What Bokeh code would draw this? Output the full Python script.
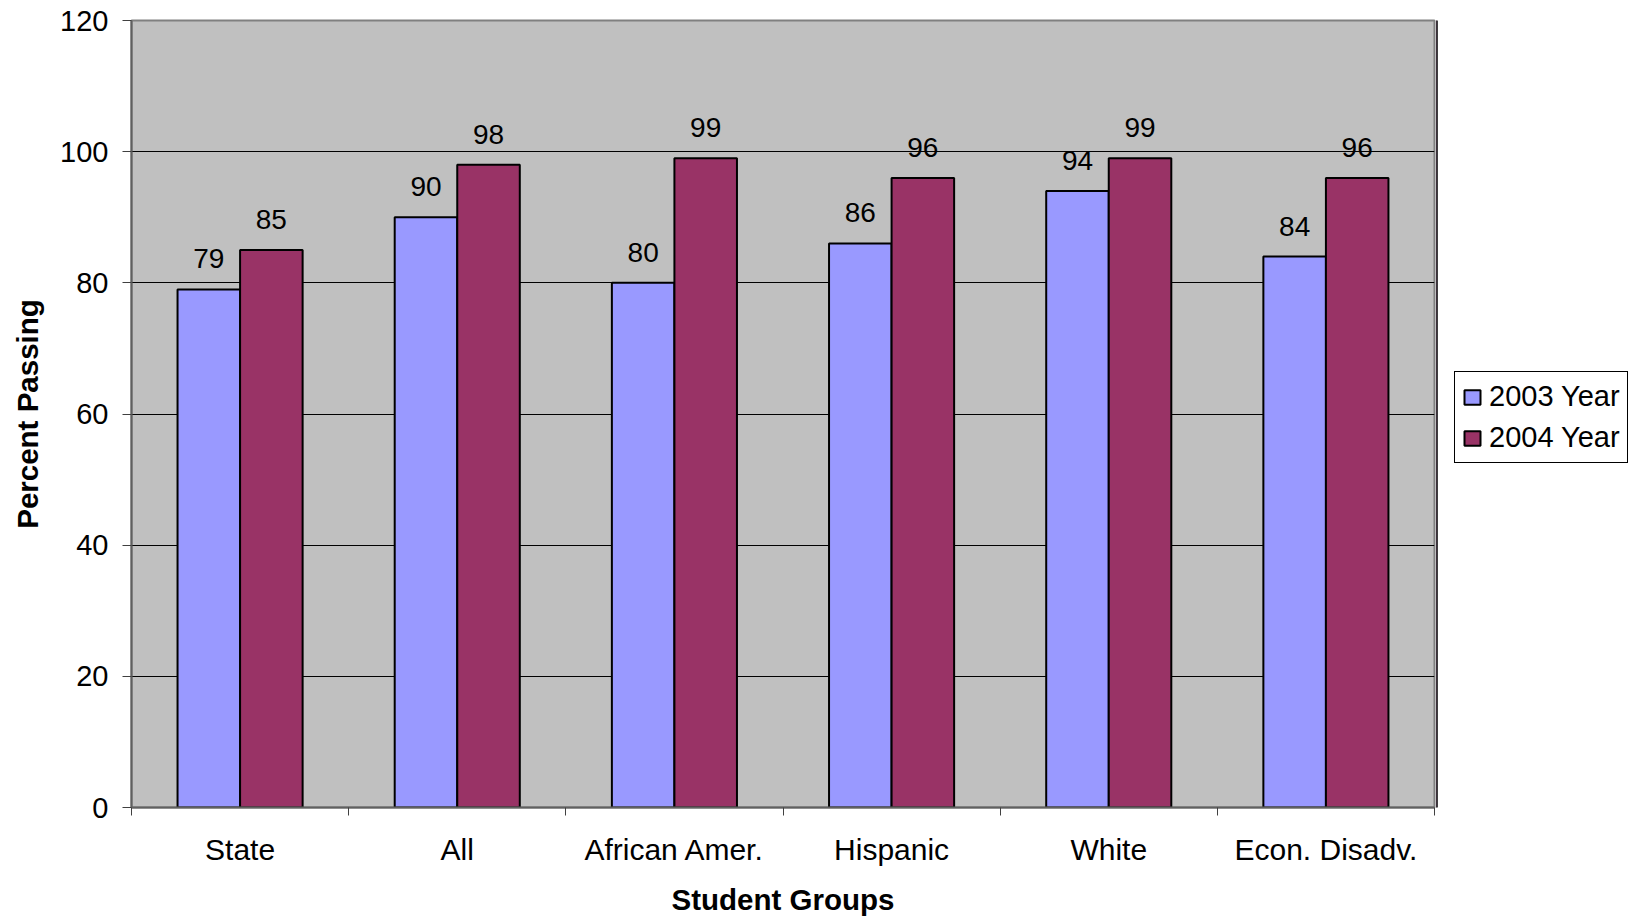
from bokeh.plotting import figure
from bokeh.models import (ColumnDataSource, Range1d, FixedTicker, LabelSet,
                          Legend, LegendItem)
from bokeh.layouts import row
from bokeh.transform import dodge
from bokeh.core.properties import value
from bokeh.embed import file_html
from bokeh.resources import INLINE

categories = ["State", "All", "African Amer.", "Hispanic", "White", "Econ. Disadv."]
series_names = ["2003 Year", "2004 Year"]
values_2003 = [79, 90, 80, 86, 94, 84]
values_2004 = [85, 98, 99, 96, 99, 96]
y_ticks = [0, 20, 40, 60, 80, 100, 120]

colors = ["#9999FF", "#993366"]
FONT = "Liberation Sans"

centers = [i + 0.5 for i in range(len(categories))]
src = ColumnDataSource(dict(x=centers, cat=categories,
                            v3=values_2003, v4=values_2004,
                            l3=[str(v) for v in values_2003],
                            l4=[str(v) for v in values_2004]))

H = 918
p = figure(width=1436, height=H, output_backend="svg", toolbar_location=None,
           x_range=Range1d(0, len(categories)), y_range=Range1d(0, 120),
           min_border_left=131, min_border_right=2,
           min_border_top=20, min_border_bottom=110)

p.background_fill_color = "#C0C0C0"
p.border_fill_color = "white"
p.outline_line_color = "#808080"
p.outline_line_width = 2

bw = 0.288
r3 = p.vbar(x=dodge("x", -bw / 2, range=p.x_range), top="v3", width=bw, source=src,
            fill_color=colors[0], line_color="black", line_width=2)
r4 = p.vbar(x=dodge("x", bw / 2, range=p.x_range), top="v4", width=bw, source=src,
            fill_color=colors[1], line_color="black", line_width=2)

for col, ycol, off in (("l3", "v3", -bw / 2), ("l4", "v4", bw / 2)):
    p.add_layout(LabelSet(x=dodge("x", off, range=p.x_range), y=ycol, text=col,
                          source=src, y_offset=21, text_align="center",
                          text_baseline="alphabetic", text_font=value(FONT),
                          text_font_size=value("28px"), text_color="black"))

# grid
p.xgrid.visible = False
p.ygrid.ticker = FixedTicker(ticks=y_ticks)
p.ygrid.grid_line_color = "black"
p.ygrid.grid_line_width = 1

# y axis
p.yaxis.ticker = FixedTicker(ticks=y_ticks)
p.yaxis.axis_label = "Percent Passing"
p.yaxis.axis_label_text_font = FONT
p.yaxis.axis_label_text_font_style = "bold"
p.yaxis.axis_label_text_font_size = "29.5px"
p.yaxis.axis_label_text_color = "black"
p.yaxis.axis_label_standoff = 13
p.yaxis.major_label_text_font = FONT
p.yaxis.major_label_text_font_size = "29px"
p.yaxis.major_label_text_color = "black"
p.yaxis.major_label_standoff = 14
p.yaxis.major_tick_out = 9
p.yaxis.major_tick_in = 0
p.yaxis.minor_tick_out = 0
p.yaxis.minor_tick_in = 0
p.yaxis.axis_line_color = "#606060"
p.yaxis.axis_line_width = 2
p.yaxis.major_tick_line_color = "#404040"

# x axis: labels at centres, tick marks at boundaries
p.xaxis.ticker = FixedTicker(ticks=centers,
                             minor_ticks=list(range(len(categories) + 1)))
p.xaxis.major_label_overrides = {c: n for c, n in zip(centers, categories)}
p.xaxis.major_label_text_font = FONT
p.xaxis.major_label_text_font_size = "30px"
p.xaxis.major_label_text_color = "black"
p.xaxis.major_label_standoff = 17
p.xaxis.major_tick_out = 0
p.xaxis.major_tick_in = 0
p.xaxis.minor_tick_out = 8
p.xaxis.minor_tick_in = 0
p.xaxis.minor_tick_line_color = "#404040"
p.xaxis.minor_tick_line_width = 1
p.xaxis.axis_line_color = "#606060"
p.xaxis.axis_line_width = 2
p.xaxis.axis_label = "Student Groups"
p.xaxis.axis_label_text_font = FONT
p.xaxis.axis_label_text_font_style = "bold"
p.xaxis.axis_label_text_font_size = "29.5px"
p.xaxis.axis_label_text_color = "black"
p.xaxis.axis_label_standoff = 14

# legend panel to the right of the plot
p2 = figure(width=195, height=H, output_backend="svg", toolbar_location=None,
            x_axis_location=None, y_axis_location=None,
            x_range=Range1d(0, 1), y_range=Range1d(0, 1),
            min_border=0, min_border_left=0, min_border_right=0,
            min_border_top=0, min_border_bottom=0)
p2.outline_line_color = None
p2.background_fill_color = "white"
p2.border_fill_color = "white"
p2.grid.visible = False
# legend-only renderers, placed outside the visible range
offscreen = ColumnDataSource(dict(x=[-10], top=[1]))
g3 = p2.vbar(x="x", top="top", width=0.1, source=offscreen,
             fill_color=colors[0], line_color="black", line_width=2)
g4 = p2.vbar(x="x", top="top", width=0.1, source=offscreen,
             fill_color=colors[1], line_color="black", line_width=2)

legend = Legend(items=[LegendItem(label=series_names[0], renderers=[g3]),
                       LegendItem(label=series_names[1], renderers=[g4])],
                location=(18, 344),
                orientation="vertical",
                label_text_font=FONT, label_text_font_size="29px",
                label_text_color="black",
                glyph_width=20, glyph_height=18, label_standoff=7,
                label_height=35, spacing=6, padding=7, margin=0,
                border_line_color="black", border_line_width=1,
                border_line_alpha=1.0,
                background_fill_color="white", background_fill_alpha=1)
p2.add_layout(legend, "center")

layout = row(p, p2, spacing=0)
open("out.html", "w").write(file_html(layout, INLINE))
